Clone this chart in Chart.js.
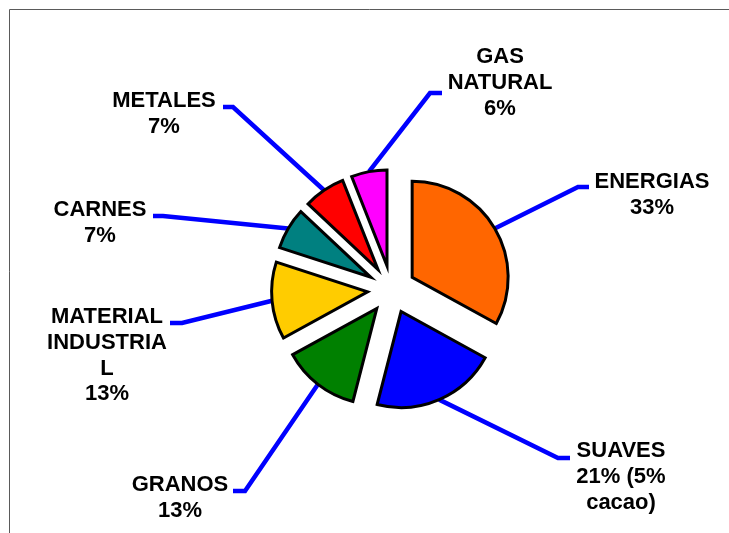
<!DOCTYPE html>
<html>
<head>
<meta charset="utf-8">
<script src="https://cdn.jsdelivr.net/npm/chart.js@4.4.0/dist/chart.umd.min.js"></script>
<style>
  html, body { margin: 0; padding: 0; background: #ffffff; overflow: hidden; }
  #wrap { position: relative; width: 729px; height: 533px; }
</style>
</head>
<body>
<div id="wrap"><canvas id="chart" width="729" height="533"></canvas></div>
<script>
// Participación por grupo de materias primas (%)
const categories = ['ENERGIAS', 'SUAVES', 'GRANOS', 'MATERIAL INDUSTRIAL', 'CARNES', 'METALES', 'GAS NATURAL'];
const shares = [33, 21, 13, 13, 7, 7, 6];
const notes = ['', '(5% cacao)', '', '', '', '', ''];
const sliceColors = ['#FF6600', '#0000FF', '#008000', '#FFCC00', '#008080', '#FF0000', '#FF00FF'];

// Label boxes (centre x, first baseline) and leader-line elbow / end points
const labelLayout = [
  { cx: 652, y: 188, elbow: [578, 187], end: [589, 187] },
  { cx: 621, y: 457, elbow: [558, 458], end: [570, 458] },
  { cx: 180, y: 491, elbow: [245, 491], end: [233, 491] },
  { cx: 107, y: 323, elbow: [182, 323], end: [170, 323] },
  { cx: 100, y: 216, elbow: [163, 216], end: [153, 216] },
  { cx: 164, y: 107, elbow: [233, 107], end: [223, 107] },
  { cx: 500, y: 63,  elbow: [430, 93],  end: [442, 93] }
];

const LABEL_FONT = "bold 22px 'Liberation Sans', Arial, sans-serif";
const LINE_H = 25.8;
const WRAP_W = 128;
const EXPLODE = 24;

function wrapText(ctx, text, maxW) {
  const words = text.split(' ');
  const lines = [];
  let cur = '';
  for (const w of words) {
    const t = cur ? cur + ' ' + w : w;
    if (ctx.measureText(t).width <= maxW) { cur = t; continue; }
    if (cur) { lines.push(cur); cur = ''; }
    let piece = w;
    while (ctx.measureText(piece).width > maxW) {
      let k = piece.length;
      while (k > 1 && ctx.measureText(piece.slice(0, k)).width > maxW) k--;
      lines.push(piece.slice(0, k));
      piece = piece.slice(k);
    }
    cur = piece;
  }
  if (cur) lines.push(cur);
  return lines;
}

// Thin frame along the top and left edges
const framePlugin = {
  id: 'frame',
  beforeDraw(chart) {
    const ctx = chart.ctx;
    ctx.save();
    ctx.strokeStyle = '#5a5a5a';
    ctx.lineWidth = 1;
    ctx.beginPath();
    ctx.moveTo(9.5, chart.height);
    ctx.lineTo(9.5, 9.5);
    ctx.lineTo(chart.width, 9.5);
    ctx.stroke();
    ctx.restore();
  }
};

// Pull every slice outward along its bisector
const explodePlugin = {
  id: 'explode',
  afterDatasetsUpdate(chart) {
    chart.getDatasetMeta(0).data.forEach(arc => {
      const mid = (arc.startAngle + arc.endAngle) / 2;
      arc.x += Math.cos(mid) * EXPLODE;
      arc.y += Math.sin(mid) * EXPLODE;
    });
  }
};

// Leader lines (under the slices) and labels
const labelPlugin = {
  id: 'labels',
  beforeDatasetsDraw(chart) {
    const ctx = chart.ctx;
    ctx.save();
    ctx.strokeStyle = '#0000FF';
    ctx.lineWidth = 4.5;
    ctx.lineJoin = 'miter';
    ctx.lineCap = 'butt';
    chart.getDatasetMeta(0).data.forEach((arc, i) => {
      const L = labelLayout[i];
      const mid = (arc.startAngle + arc.endAngle) / 2;
      const r = arc.outerRadius;
      ctx.beginPath();
      ctx.moveTo(arc.x + Math.cos(mid) * r, arc.y + Math.sin(mid) * r);
      ctx.lineTo(L.elbow[0], L.elbow[1]);
      ctx.lineTo(L.end[0], L.end[1]);
      ctx.stroke();
    });
    ctx.restore();
  },
  afterDatasetsDraw(chart) {
    const ctx = chart.ctx;
    ctx.save();
    ctx.font = LABEL_FONT;
    ctx.fillStyle = '#000000';
    ctx.textAlign = 'center';
    ctx.textBaseline = 'alphabetic';
    categories.forEach((name, i) => {
      const L = labelLayout[i];
      const valueText = shares[i] + '%' + (notes[i] ? ' ' + notes[i] : '');
      const lines = wrapText(ctx, name, WRAP_W).concat(wrapText(ctx, valueText, WRAP_W));
      lines.forEach((ln, k) => ctx.fillText(ln, L.cx, L.y + k * LINE_H));
    });
    ctx.restore();
  }
};

new Chart(document.getElementById('chart'), {
  type: 'pie',
  data: {
    labels: categories,
    datasets: [{
      data: shares,
      backgroundColor: sliceColors,
      borderColor: '#000000',
      borderWidth: 3,
      borderJoinStyle: 'miter'
    }]
  },
  options: {
    responsive: false,
    animation: false,
    events: [],
    radius: 96,
    layout: { padding: { left: 54, top: 46, right: 0, bottom: 0 } },
    plugins: {
      legend: { display: false },
      tooltip: { enabled: false }
    }
  },
  plugins: [framePlugin, explodePlugin, labelPlugin]
});
</script>
</body>
</html>
